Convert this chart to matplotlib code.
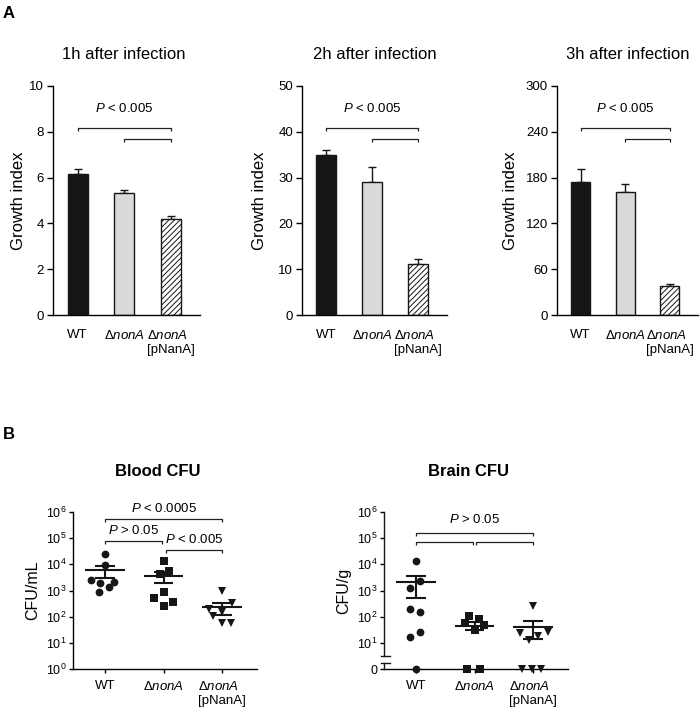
import matplotlib
matplotlib.use("Agg")
import matplotlib.pyplot as plt
import numpy as np

plt.rcParams['font.family'] = ['Liberation Sans', 'DejaVu Sans']
plt.rcParams['mathtext.fontset'] = 'custom'
plt.rcParams['mathtext.rm'] = 'Liberation Sans'
plt.rcParams['mathtext.it'] = 'Liberation Sans:italic'
plt.rcParams['mathtext.bf'] = 'Liberation Sans:bold'
plt.rcParams['hatch.linewidth'] = 0.7
plt.rcParams['axes.linewidth'] = 1.0

# %% data
strains = ['WT', r'$\mathit{\Delta nonA}$', '$\\mathit{\\Delta nonA}$\n[pNanA]']

# panel A: growth index (mean, SEM)
hours = ['1h after infection', '2h after infection', '3h after infection']
gi_1h = [6.15, 5.33, 4.18]
gi_1h_sem = [0.24, 0.13, 0.15]
gi_2h = [34.9, 29.0, 11.2]
gi_2h_sem = [1.2, 3.3, 1.1]
gi_3h = [174, 161, 38]
gi_3h_sem = [17, 11, 2.5]
gi_ymax = [10, 50, 300]
gi_step = [2, 10, 60]

# panel B: CFU per mouse
blood_wt = [25000, 9800, 2600, 2000, 2100, 1350, 870]
blood_nona = [13000, 5500, 4400, 870, 540, 360, 250]
blood_pnana = [1000, 320, 200, 105, 150, 55, 55]
blood_mean = [6000, 3550, 225]
blood_sem = [3000, 1600, 105]

brain_wt = [13000, 2300, 1200, 190, 145, 17, 26, 0]
brain_nona = [107, 79, 56, 47, 31, 0, 0]
brain_pnana = [250, 27, 23, 19, 12.5, 0, 0, 0]
brain_mean = [2100, 45, 41]
brain_sem = [1600, 15, 27]

# horizontal spread of the dots (category units), as drawn by Prism
blood_jit = [[0, 0, -0.24, -0.09, 0.15, 0.07, -0.10],
             [0, 0.09, -0.06, 0, -0.16, 0.16, 0],
             [0, 0.17, -0.23, -0.16, 0, 0, 0.16]]
brain_jit = [[0, 0.07, -0.10, -0.10, 0.07, -0.10, 0.07, 0],
             [-0.09, 0.07, -0.17, 0.16, 0, -0.13, 0.10],
             [0, 0.25, -0.23, 0.09, -0.07, -0.18, -0.02, 0.14]]

W, H = 700, 713
fig = plt.figure(figsize=(W / 100, H / 100), dpi=100)


def px_axes(left, right, top, bottom):
    return fig.add_axes([left / W, 1 - bottom / H, (right - left) / W, (bottom - top) / H])


def bracket(ax, x1, x2, y, drop=3.5, lw=0.9):
    # horizontal line with short drops at both ends (drop in pixels)
    xd, yd = ax.transData.transform((x1, y))
    _, ylow = ax.transData.inverted().transform((xd, yd - drop))
    ax.plot([x1, x1, x2, x2], [ylow, y, y, ylow], color='#222222', lw=lw,
            clip_on=False, solid_capstyle='butt')


def fix_labels(ax):
    for lab in ax.get_xticklabels():
        lab.set_multialignment('left')


# %% panel A
fig.text(3 / W, 1 - 13 / H, 'A', fontsize=12, fontweight='bold', va='center')

gi_vals = [gi_1h, gi_2h, gi_3h]
gi_sems = [gi_1h_sem, gi_2h_sem, gi_3h_sem]
boxes = [(53, 200), (302, 447), (557, 698)]
ylab_x = [-0.238, -0.29, -0.333]
title_x = [0.48, 0.5, 0.5]
x = np.arange(3)
for k in range(3):
    ax = px_axes(boxes[k][0], boxes[k][1], 86, 315)
    ax.bar(x, gi_vals[k], width=0.43,
           color=['#161616', '#d9d9d9', 'white'],
           edgecolor='#161616', linewidth=1.0,
           hatch=['', '', '//////'], zorder=2)
    ax.errorbar(x, gi_vals[k], yerr=[[0, 0, 0], gi_sems[k]], fmt='none',
                ecolor='#161616', elinewidth=1.0, capsize=2.8, capthick=1.0, zorder=1)
    ax.set_xlim(-0.53, 2.63)
    ax.set_ylim(0, gi_ymax[k])
    ax.set_yticks(np.arange(0, gi_ymax[k] + 1, gi_step[k]))
    ax.set_xticks(x)
    ax.set_xticklabels(strains, fontsize=9.5)
    fix_labels(ax)
    ax.tick_params(axis='x', length=0, pad=10)
    ax.tick_params(axis='y', length=4, width=1.0, pad=2.5, labelsize=9.5)
    for s in ['top', 'right']:
        ax.spines[s].set_visible(False)
    ax.set_ylabel('Growth index', fontsize=12, va='center')
    ax.yaxis.set_label_coords(ylab_x[k], 0.5)
    ax.set_title(hours[k], fontsize=12, x=title_x[k], y=1.1, va='center')
    top = gi_ymax[k]
    bracket(ax, 0, 2, 0.815 * top, drop=3)
    bracket(ax, 1, 2, 0.77 * top, drop=3)
    ax.text(1, 0.9 * top, r'$\mathit{P}$ < 0.005', fontsize=9.5, ha='center', va='center')

# %% panel B
fig.text(3 / W, 1 - 435 / H, 'B', fontsize=12, fontweight='bold', va='center')

decades = [1, 10, 100, 1e3, 1e4, 1e5, 1e6]
markers = ['o', 's', 'v']
msizes = [5.6, 5.6, 6.2]


def cfu_panel(ax, groups, jit, mean, sem, title, ylabel, ylab_x):
    for i, vals in enumerate(groups):
        v = np.asarray(vals, dtype=float)
        v = np.where(v == 0, 1, v)  # zero counts sit on the "0" line
        xs = i + np.asarray(jit[i])
        ax.plot(xs, v, ls='none', marker=markers[i], ms=msizes[i],
                color='#161616', mew=0, clip_on=False, zorder=3)
        ax.hlines(mean[i], i - 0.34, i + 0.34, color='#161616', lw=1.5, zorder=4)
        ax.vlines(i, mean[i] - sem[i], mean[i] + sem[i], color='#161616', lw=1.5, zorder=4)
        ax.hlines([mean[i] - sem[i], mean[i] + sem[i]], i - 0.17, i + 0.17,
                  color='#161616', lw=1.5, zorder=4)
    ax.set_yscale('log')
    ax.set_ylim(1, 1e6)
    ax.set_xlim(-0.55, 2.6)
    ax.set_yticks(decades)
    ax.yaxis.set_minor_locator(matplotlib.ticker.NullLocator())
    ax.set_xticks(range(3))
    ax.set_xticklabels(strains, fontsize=9.5)
    fix_labels(ax)
    ax.tick_params(axis='x', length=3, width=1.0, pad=5)
    ax.tick_params(axis='y', length=3, width=1.0, pad=1.5, labelsize=9)
    for s in ['top', 'right']:
        ax.spines[s].set_visible(False)
    ax.set_ylabel(ylabel, fontsize=11.5, va='center')
    ax.yaxis.set_label_coords(ylab_x, 0.5)
    ax.set_title(title, fontsize=12, fontweight='bold', x=0.46, y=1.204, va='center')


ax = px_axes(73, 257, 512, 669)
cfu_panel(ax, [blood_wt, blood_nona, blood_pnana], blood_jit, blood_mean, blood_sem,
          'Blood CFU', 'CFU/mL', -0.217)
ax.set_yticklabels(['$10^{%d}$' % n for n in range(7)])
bracket(ax, 0, 2, 10 ** 5.74)
ax.text(1, 10 ** 6.13, r'$\mathit{P}$ < 0.0005', fontsize=9.5, ha='center', va='center')
bracket(ax, 0, 0.98, 10 ** 4.90)
ax.text(0.48, 10 ** 5.29, r'$\mathit{P}$ > 0.05', fontsize=9.5, ha='center', va='center')
bracket(ax, 1.04, 2, 10 ** 4.56)
ax.text(1.52, 10 ** 4.94, r'$\mathit{P}$ < 0.005', fontsize=9.5, ha='center', va='center')

ax = px_axes(384, 568, 512, 669)
cfu_panel(ax, [brain_wt, brain_nona, brain_pnana], brain_jit, brain_mean, brain_sem,
          'Brain CFU', 'CFU/g', -0.218)
ax.set_yticklabels(['0'] + ['$10^{%d}$' % n for n in range(1, 7)])
# broken y axis between 0 and 10^1
ax.spines['left'].set_visible(False)
yt = ax.get_yaxis_transform()
ax.plot([0, 0], [1, 10 ** 0.23], transform=yt, color='#161616', lw=1.0, clip_on=False)
ax.plot([0, 0], [10 ** 0.49, 1e6], transform=yt, color='#161616', lw=1.0, clip_on=False)
ax.plot([-0.016, 0.035], [10 ** 0.23] * 2, transform=yt, color='#161616', lw=1.0, clip_on=False)
ax.plot([-0.016, 0.035], [10 ** 0.49] * 2, transform=yt, color='#161616', lw=1.0, clip_on=False)
bracket(ax, 0, 2, 10 ** 5.21)
bracket(ax, 0, 0.97, 10 ** 4.87)
bracket(ax, 1.03, 2, 10 ** 4.87)
ax.text(1, 10 ** 5.72, r'$\mathit{P}$ > 0.05', fontsize=9.5, ha='center', va='center')

fig.savefig('out.png', dpi=100, facecolor='white')
